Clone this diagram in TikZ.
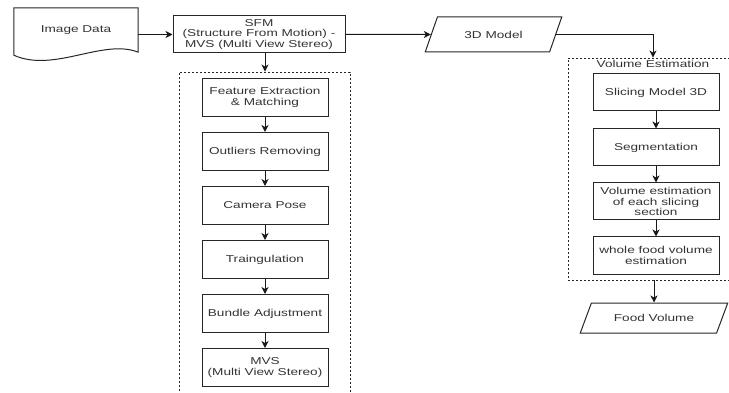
\documentclass[tikz,border=0pt]{standalone}
\usepackage{fontspec}
\setmainfont{Liberation Sans}[FakeStretch=1.36]
\usetikzlibrary{positioning,shapes.geometric,arrows.meta}

\begin{document}
\begin{tikzpicture}[x=1pt,y=-1pt,
every node/.style={align=center, text=black!80, font=\fontsize{10}{10.5}\selectfont, inner sep=1pt},
procbox/.style={rectangle, draw=black!85, line width=1pt, minimum width=126pt, minimum height=38pt},
iobox/.style={trapezium, trapezium left angle=55, trapezium right angle=125, trapezium stretches=true,
        draw=black!85, line width=1pt},
groupbox/.style={rectangle, draw=black!85, dash pattern=on 2pt off 2pt, line width=0.9pt},
flow/.style={-{Stealth[length=7pt,width=7pt,inset=2pt]}, line width=1pt, draw=black!90},
node distance=15pt
]
  \useasboundingbox (0,0) rectangle (729,393);

  \node (img) [minimum width=124pt, minimum height=44pt] at (76,30) {Image Data};
  \draw[line width=1pt, draw=black!85] (img.north west) -- (img.north east) -- (img.south east)
      .. controls +(-35,-14) and +(40,18) .. ([yshift=-3pt]img.south west) -- cycle;

  \node[procbox, minimum width=172pt, minimum height=37pt] (sfm) at (259,34.5)
      {SFM\\(Structure From Motion) -\\MVS (Multi View Stereo)};
  \node[iobox, minimum width=137pt, minimum height=35pt] (model) at (493.5,34.5) {3D Model};

  \node[groupbox, minimum width=171pt, minimum height=333pt] (sfmgroup) at (264.5,238.5) {};
  \node[procbox] (feat) at (265,97.5) {Feature Extraction\\\& Matching};
  \node[procbox, below=15pt of feat] (outl) {Outliers Removing};
  \node[procbox, below=15pt of outl] (cam) {Camera Pose};
  \node[procbox, below=15pt of cam] (tri) {Traingulation};
  \node[procbox, below=15pt of tri] (bundle) {Bundle Adjustment};
  \node[procbox, below=15pt of bundle] (mvs) {MVS\\(Multi View Stereo)};

  \node[groupbox, minimum width=170pt, minimum height=222pt] (volgroup) at (653,169) {};
  \node[anchor=north, inner sep=3pt] (voltitle) at (volgroup.north) {Volume Estimation};
  \node[procbox, minimum height=37pt] (slice) at (656,92.5) {Slicing Model 3D};
  \node[procbox, minimum height=37pt, below=17pt of slice] (segm) {Segmentation};
  \node[procbox, minimum height=37pt, below=16pt of segm] (volsec) {Volume estimation\\of each slicing\\section};
  \node[procbox, minimum height=37pt, below=16pt of volsec] (whole) {whole food volume\\estimation};

  \node[iobox, minimum width=148pt, minimum height=30pt, trapezium left angle=52,
      trapezium right angle=128] (food) at (654,318) {Food Volume};

  \draw[flow] (img.east |- sfm.west) -- (sfm.west);
  \draw[flow] (sfm.east) -- (model.west);
  \draw[flow] (model.east) -| (volgroup.north);
  \draw[flow] (feat.north |- sfm.south) -- (feat.north |- sfmgroup.north);
  \foreach \a/\b in {feat/outl, outl/cam, cam/tri, tri/bundle, bundle/mvs, slice/segm, segm/volsec, volsec/whole}
    \draw[flow] (\a) -- (\b);
  \draw[flow] (food.north |- volgroup.south) -- (food.north);
\end{tikzpicture}
\end{document}
